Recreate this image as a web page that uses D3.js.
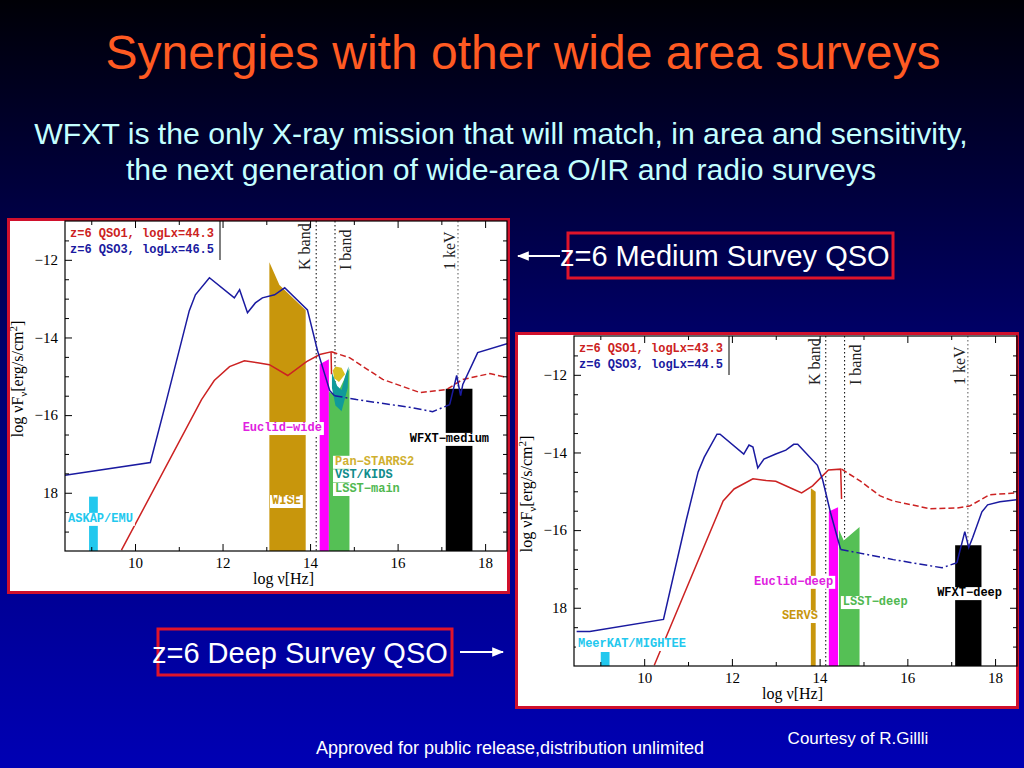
<!DOCTYPE html>
<html>
<head>
<meta charset="utf-8">
<script src="https://cdn.jsdelivr.net/npm/d3@7"></script>
<style>body{margin:0;background:#000;overflow:hidden}</style>
</head>
<body>
<script>
// values (log nu [Hz], log nuFnu [erg/s/cm2])
var xTicks = [10, 12, 14, 16, 18];
var xMinor = [9, 11, 13, 15, 17];
var yTicks = [-12, -14, -16, -18];
var yTickLabels = ["\u221212", "\u221214", "\u221216", "18"];
var yMinor = [-11.5, -12.5, -13, -13.5, -14.5, -15, -15.5, -16.5, -17, -17.5, -18.5, -19];

var bandNames = ["K band", "I band", "1 keV"];
var bandNu = [14.14, 14.57, 17.38];

// medium survey panel
var medLegend = ["z=6 QSO1, logLx=44.3", "z=6 QSO3, logLx=46.5"];
var medRedSolid = [[9.69,-19.48],[11.52,-15.60],[11.81,-15.11],[12.16,-14.75],[12.50,-14.60],[12.80,-14.65],
  [13.07,-14.70],[13.49,-14.98],[13.92,-14.62],[14.22,-14.44],[14.48,-14.37],[14.49,-14.95]];
var medRedDash = [[14.49,-14.37],[14.90,-14.52],[15.66,-15.08],[16.51,-15.42],[17.12,-15.34],[17.49,-15.08],
  [18.11,-14.93],[18.50,-15.03]];
var medBlueSolid = [[8.40,-17.55],[10.35,-17.22],[10.69,-15.75],[11.24,-13.31],[11.38,-12.90],[11.70,-12.46],
  [12.27,-12.98],[12.39,-12.77],[12.57,-13.36],[12.75,-13.11],[12.91,-12.98],[13.19,-12.90],[13.42,-12.72],
  [13.94,-13.29],[14.17,-14.34],[14.45,-15.37],[14.56,-15.50]];
var medBlueDash = [[14.56,-15.50],[15.06,-15.60],[16.28,-15.80],[16.80,-15.91],[17.19,-15.73]];
var medBlueX = [[17.19,-15.73],[17.35,-14.98],[17.44,-15.50],[17.49,-15.21],[17.83,-14.39],[18.50,-14.16]];
var medAskap = [[8.95,-18.10],[9.15,-18.10],[9.15,-19.5],[8.95,-19.5]];
var medWise = [[13.07,-12.06],[13.30,-12.65],[13.90,-13.30],[13.90,-19.5],[13.07,-19.5]];
var medEuclid = [[14.22,-14.69],[14.43,-14.56],[14.43,-19.5],[14.22,-19.5]];
var medLsst = [[14.43,-15.40],[14.60,-15.50],[14.90,-14.80],[14.90,-19.5],[14.43,-19.5]];
var medVst = [[14.50,-14.90],[14.62,-15.25],[14.72,-15.35],[14.80,-15.00],[14.88,-14.75],[14.86,-15.30],
  [14.72,-15.90],[14.58,-15.75],[14.50,-15.30]];
var medPan = [[14.52,-14.85],[14.58,-14.75],[14.72,-14.78],[14.80,-14.95],[14.66,-15.15],[14.55,-15.05]];
var medWfxt = [[17.10,-15.32],[17.71,-15.32],[17.71,-19.5],[17.10,-19.5]];

// deep survey panel
var deepLegend = ["z=6 QSO1, logLx=43.3", "z=6 QSO3, logLx=44.5"];
var deepRedSolid = [[10.23,-19.48],[11.80,-15.25],[12.05,-14.94],[12.48,-14.68],[12.78,-14.72],[13.00,-14.74],
  [13.39,-14.94],[13.59,-15.04],[13.84,-14.86],[14.20,-14.45],[14.48,-14.43],[14.50,-15.20]];
var deepRedDash = [[14.50,-14.43],[14.93,-14.74],[15.38,-15.12],[15.68,-15.25],[16.52,-15.45],[17.13,-15.43],
  [17.42,-15.38],[17.87,-15.09],[18.49,-15.04]];
var deepBlueSolid = [[8.46,-18.61],[8.76,-18.61],[10.44,-18.30],[10.96,-15.74],[11.23,-14.50],[11.37,-14.12],
  [11.66,-13.53],[11.73,-13.53],[12.27,-14.04],[12.39,-13.81],[12.48,-13.86],[12.59,-14.40],[12.73,-14.17],
  [13.00,-14.04],[13.23,-13.94],[13.41,-13.79],[13.50,-13.79],[13.95,-14.33],[14.07,-14.71],[14.25,-15.56],
  [14.48,-16.50]];
var deepBlueDash = [[14.48,-16.50],[14.86,-16.58],[15.68,-16.76],[16.79,-16.97],[17.13,-16.84]];
var deepBlueX = [[17.13,-16.84],[17.31,-16.04],[17.40,-16.45],[17.49,-16.19],[17.70,-15.53],[17.83,-15.35],
  [18.11,-15.27],[18.49,-15.22]];
var deepMeerkat = [[9.01,-19.14],[9.21,-19.14],[9.21,-19.5],[9.01,-19.5]];
var deepServs = [[13.80,-14.92],[13.91,-15.01],[13.91,-19.5],[13.80,-19.5]];
var deepEuclid = [[14.21,-15.52],[14.42,-15.41],[14.42,-19.5],[14.21,-19.5]];
var deepLsst = [[14.44,-15.99],[14.55,-16.27],[14.91,-15.92],[14.91,-19.5],[14.44,-19.5]];
var deepWfxt = [[17.09,-16.39],[17.69,-16.39],[17.69,-19.5],[17.09,-19.5]];

var C = {cyan:"#22c8ee", gold:"#c8960c", mag:"#ff00ff", green:"#55c055", teal:"#109a9a",
  yellow:"#d8c020", red:"#cc2222", blue:"#1a1aa0"};

var W = 1024, H = 768;
var svg = d3.select("body").append("svg").attr("width", W).attr("height", H);
var defs = svg.append("defs");
var grad = defs.append("linearGradient").attr("id", "bg")
  .attr("x1", 0).attr("y1", 0).attr("x2", 0).attr("y2", 1);
grad.append("stop").attr("offset", "0%").attr("stop-color", "#000006");
grad.append("stop").attr("offset", "45%").attr("stop-color", "#00006a");
grad.append("stop").attr("offset", "100%").attr("stop-color", "#0000b4");
svg.append("rect").attr("width", W).attr("height", H).attr("fill", "url(#bg)");

defs.append("marker").attr("id", "arr").attr("viewBox", "0 0 10 10")
  .attr("refX", 9).attr("refY", 5).attr("markerWidth", 6).attr("markerHeight", 6)
  .attr("orient", "auto")
  .append("path").attr("d", "M0,1 L10,5 L0,9 z").attr("fill", "#fff");

// slide text
svg.append("text").attr("x", 523).attr("y", 69).attr("text-anchor", "middle")
  .attr("font-family", "Liberation Sans, Arial, sans-serif").attr("font-size", 48)
  .attr("fill", "#ff5a22").text("Synergies with other wide area surveys");
svg.append("text").attr("x", 501).attr("y", 144).attr("text-anchor", "middle")
  .attr("font-family", "Liberation Sans, Arial, sans-serif").attr("font-size", 30.2)
  .attr("fill", "#c4ffff").text("WFXT is the only X-ray mission that will match, in area and sensitivity,");
svg.append("text").attr("x", 501).attr("y", 180).attr("text-anchor", "middle")
  .attr("font-family", "Liberation Sans, Arial, sans-serif").attr("font-size", 30.2)
  .attr("fill", "#c4ffff").text("the next generation of wide-area O/IR and radio surveys");

function drawChart(cfg) {
  var g = svg.append("g");
  var p = cfg.plot;
  g.append("rect").attr("x", cfg.box[0]).attr("y", cfg.box[1])
    .attr("width", cfg.box[2]).attr("height", cfg.box[3])
    .attr("fill", "#fff").attr("stroke", "#d0102c").attr("stroke-width", 3);

  var x = d3.scaleLinear().domain([8.4, 18.5]).range([p.l, p.r]);
  var y = d3.scaleLinear().domain([-19.5, -11]).range([p.b, p.t]);

  var clipId = "clip" + cfg.id;
  defs.append("clipPath").attr("id", clipId).append("rect")
    .attr("x", p.l).attr("y", p.t).attr("width", p.r - p.l).attr("height", p.b - p.t);
  var inner = g.append("g").attr("clip-path", "url(#" + clipId + ")");

  // band markers
  bandNu.forEach(function(nu, i) {
    inner.append("line").attr("x1", x(nu)).attr("x2", x(nu)).attr("y1", p.t).attr("y2", p.b)
      .attr("stroke", i == 2 ? "#555" : "#000").attr("stroke-width", 1)
      .attr("stroke-dasharray", "1.5,2.5");
  });
  var bandDx = [-6, 16, -3];
  bandNames.forEach(function(name, i) {
    inner.append("text")
      .attr("transform", "translate(" + (x(bandNu[i]) + bandDx[i]) + "," + (p.t + 49) + ") rotate(-90)")
      .attr("font-family", "Liberation Serif, serif").attr("font-size", 16)
      .attr("fill", "#222").text(name);
  });

  // survey sensitivity regions
  var area = d3.line().x(function(d) { return x(d[0]); }).y(function(d) { return y(d[1]); });
  cfg.shades.forEach(function(s) {
    inner.append("path").attr("d", area(s[0]) + "Z").attr("fill", s[1]);
  });

  // SEDs
  var line = d3.line().x(function(d) { return x(d[0]); }).y(function(d) { return y(d[1]); });
  function curve(data, col, dash) {
    inner.append("path").attr("d", line(data)).attr("fill", "none")
      .attr("stroke", col).attr("stroke-width", 1.5)
      .attr("stroke-dasharray", dash || null);
  }
  curve(cfg.redSolid, C.red);
  curve(cfg.redDash, C.red, "6,3");
  curve(cfg.blueSolid, C.blue);
  curve(cfg.blueDash, C.blue, "8,3,2,3");
  curve(cfg.blueX, C.blue);

  // axes, ticks inside
  function style(sel) {
    sel.select(".domain").remove();
    sel.selectAll("line").attr("stroke", "#000");
    sel.selectAll("text").attr("font-family", "Liberation Serif, serif")
      .attr("font-size", 15).attr("fill", "#000");
  }
  g.append("g").attr("transform", "translate(0," + p.b + ")")
    .call(d3.axisBottom(x).tickValues(xTicks).tickSize(-7).tickPadding(6).tickFormat(d3.format("d"))).call(style);
  g.append("g").attr("transform", "translate(0," + p.b + ")")
    .call(d3.axisBottom(x).tickValues(xMinor).tickSize(-4).tickFormat("")).call(style);
  g.append("g").attr("transform", "translate(0," + p.t + ")")
    .call(d3.axisTop(x).tickValues(xTicks).tickSize(-7).tickFormat("")).call(style);
  g.append("g").attr("transform", "translate(0," + p.t + ")")
    .call(d3.axisTop(x).tickValues(xMinor).tickSize(-4).tickFormat("")).call(style);
  g.append("g").attr("transform", "translate(" + p.l + ",0)")
    .call(d3.axisLeft(y).tickValues(yTicks).tickSize(-7).tickPadding(7)
      .tickFormat(function(d, i) { return yTickLabels[i]; })).call(style);
  g.append("g").attr("transform", "translate(" + p.l + ",0)")
    .call(d3.axisLeft(y).tickValues(yMinor).tickSize(-4).tickFormat("")).call(style);
  g.append("g").attr("transform", "translate(" + p.r + ",0)")
    .call(d3.axisRight(y).tickValues(yTicks).tickSize(-7).tickFormat("")).call(style);
  g.append("g").attr("transform", "translate(" + p.r + ",0)")
    .call(d3.axisRight(y).tickValues(yMinor).tickSize(-4).tickFormat("")).call(style);
  g.append("rect").attr("x", p.l).attr("y", p.t).attr("width", p.r - p.l).attr("height", p.b - p.t)
    .attr("fill", "none").attr("stroke", "#000").attr("stroke-width", 1.2);

  // axis titles
  var yl = g.append("text")
    .attr("transform", "translate(" + (p.l - 42) + "," + (p.t + 158) + ") rotate(-90)")
    .attr("text-anchor", "middle").attr("font-family", "Liberation Serif, serif")
    .attr("font-size", 16).attr("fill", "#000");
  yl.append("tspan").text("log \u03bdF");
  yl.append("tspan").attr("dy", 4).attr("font-size", 11).text("\u03bd");
  yl.append("tspan").attr("dy", -4).text("[erg/s/cm");
  yl.append("tspan").attr("dy", -6).attr("font-size", 11).text("2");
  yl.append("tspan").attr("dy", 6).text("]");
  var xl = g.append("text").attr("x", p.l + 188).attr("y", p.b + 33)
    .attr("font-family", "Liberation Serif, serif").attr("font-size", 16).attr("fill", "#000");
  xl.append("tspan").text("log \u03bd[Hz]");

  // legend
  g.append("line").attr("x1", p.l + 155).attr("x2", p.l + 155).attr("y1", p.t).attr("y2", p.t + 39)
    .attr("stroke", "#000");
  cfg.legend.forEach(function(t, i) {
    g.append("text").attr("x", p.l + 5).attr("y", p.t + 16 + i * 16)
      .attr("font-family", "Liberation Mono, monospace").attr("font-size", 12).attr("font-weight", "bold")
      .attr("fill", i == 0 ? C.red : C.blue).text(t);
  });

  // survey labels on white patches
  cfg.labels.forEach(function(lb) {
    var t = g.append("text").attr("x", x(lb[1])).attr("y", y(lb[2]))
      .attr("text-anchor", lb[4] || "start")
      .attr("font-family", "Liberation Mono, monospace").attr("font-size", 12).attr("font-weight", "bold")
      .attr("fill", lb[3]).text(lb[0]);
    var bb = t.node().getBBox();
    g.insert("rect", function() { return t.node(); })
      .attr("x", bb.x - 2).attr("y", bb.y + 1).attr("width", bb.width + 4).attr("height", bb.height - 1)
      .attr("fill", "#fff");
  });
}

drawChart({
  id: 1,
  box: [8.5, 219.5, 500, 373],
  plot: {l: 65, r: 507, t: 221, b: 551},
  redSolid: medRedSolid, redDash: medRedDash,
  blueSolid: medBlueSolid, blueDash: medBlueDash, blueX: medBlueX,
  legend: medLegend,
  shades: [[medAskap, C.cyan], [medWise, C.gold], [medEuclid, C.mag], [medLsst, C.green],
    [medVst, C.teal], [medPan, C.yellow], [medWfxt, "#000"]],
  labels: [["Euclid\u2212wide", 14.27, -16.41, "#e020e0", "end"],
    ["Pan\u2212STARRS2", 14.57, -17.28, "#d0b030"],
    ["VST/KIDS", 14.57, -17.63, "#108c8c"],
    ["LSST\u2212main", 14.57, -17.98, "#50b850"],
    ["WISE", 13.13, -18.29, C.gold],
    ["ASKAP/EMU", 8.47, -18.75, C.cyan],
    ["WFXT\u2212medium", 16.28, -16.69, "#000"]]
});

drawChart({
  id: 2,
  box: [516.5, 333.5, 501, 374],
  plot: {l: 574, r: 1017, t: 336, b: 666},
  redSolid: deepRedSolid, redDash: deepRedDash,
  blueSolid: deepBlueSolid, blueDash: deepBlueDash, blueX: deepBlueX,
  legend: deepLegend,
  shades: [[deepMeerkat, C.cyan], [deepServs, C.gold], [deepEuclid, C.mag], [deepLsst, C.green],
    [deepWfxt, "#000"]],
  labels: [["Euclid\u2212deep", 14.31, -17.41, "#e020e0", "end"],
    ["LSST\u2212deep", 14.53, -17.93, "#50b850"],
    ["SERVS", 13.14, -18.29, C.gold],
    ["MeerKAT/MIGHTEE", 8.49, -19.01, C.cyan],
    ["WFXT\u2212deep", 16.68, -17.70, "#000"]]
});

// callouts
svg.append("rect").attr("x", 568).attr("y", 233).attr("width", 325).attr("height", 45)
  .attr("fill", "none").attr("stroke", "#e0142a").attr("stroke-width", 3);
svg.append("line").attr("x1", 560).attr("y1", 256).attr("x2", 518).attr("y2", 256)
  .attr("stroke", "#fff").attr("stroke-width", 2).attr("marker-end", "url(#arr)");
svg.append("text").attr("x", 560).attr("y", 266)
  .attr("font-family", "Liberation Sans, Arial, sans-serif").attr("font-size", 29)
  .attr("fill", "#fff").text("z=6 Medium Survey QSO");

svg.append("rect").attr("x", 158).attr("y", 629).attr("width", 294).attr("height", 46)
  .attr("fill", "none").attr("stroke", "#e0142a").attr("stroke-width", 3);
svg.append("line").attr("x1", 460).attr("y1", 652).attr("x2", 503).attr("y2", 652)
  .attr("stroke", "#fff").attr("stroke-width", 2).attr("marker-end", "url(#arr)");
svg.append("text").attr("x", 152).attr("y", 663)
  .attr("font-family", "Liberation Sans, Arial, sans-serif").attr("font-size", 29)
  .attr("fill", "#fff").text("z=6 Deep Survey QSO");

svg.append("text").attr("x", 510).attr("y", 754).attr("text-anchor", "middle")
  .attr("font-family", "Liberation Sans, Arial, sans-serif").attr("font-size", 18)
  .attr("fill", "#fff").text("Approved for public release,distribution unlimited");
svg.append("text").attr("x", 858).attr("y", 744).attr("text-anchor", "middle")
  .attr("font-family", "Liberation Sans, Arial, sans-serif").attr("font-size", 17)
  .attr("fill", "#fff").text("Courtesy of R.Gillli");
</script>
</body>
</html>
